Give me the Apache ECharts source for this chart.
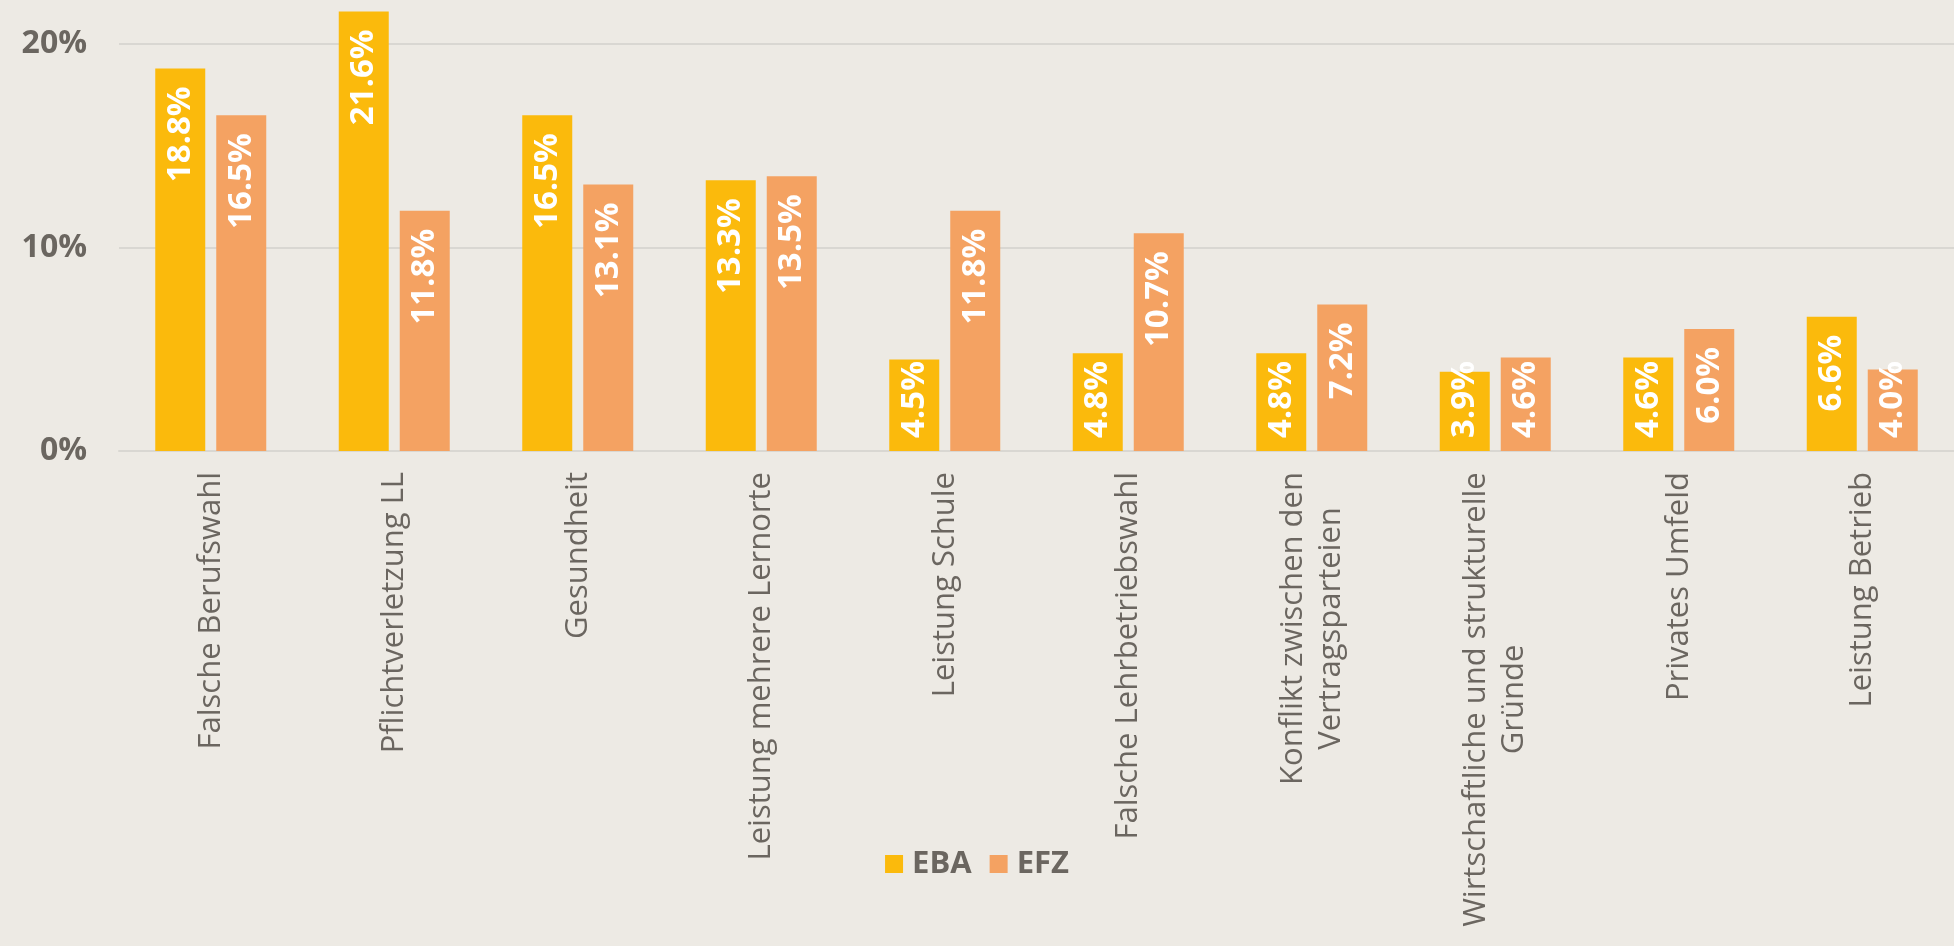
<!DOCTYPE html>
<html>
<head>
<meta charset="utf-8">
<script src="https://cdn.jsdelivr.net/npm/echarts@6/dist/echarts.min.js"></script>
<style>
  html, body { margin: 0; padding: 0; background: #edeae4; }
  #chart { width: 1954px; height: 946px; }
</style>
</head>
<body>
<div id="chart"></div>
<script>
// Kategorien (Lösungsgründe)
var categories = [
  'Falsche Berufswahl',
  'Pflichtverletzung LL',
  'Gesundheit',
  'Leistung mehrere Lernorte',
  'Leistung Schule',
  'Falsche Lehrbetriebswahl',
  'Konflikt zwischen den\nVertragsparteien',
  'Wirtschaftliche und strukturelle\nGründe',
  'Privates Umfeld',
  'Leistung Betrieb'
]
var seriesNames = ['EBA', 'EFZ']
var ebaValues = [18.8, 21.6, 16.5, 13.3, 4.5, 4.8, 4.8, 3.9, 4.6, 6.6]
var efzValues = [16.5, 11.8, 13.1, 13.5, 11.8, 10.7, 7.2, 4.6, 6.0, 4.0]
var yTicks = [0, 10, 20]

var colors = ['#fbba0c', '#f4a262']
var textGrey = '#6b6660'
var fontFam = '"Open Sans", "Noto Sans", sans-serif'

// mehrzeilige Achsenbeschriftungen: Zeilen zentriert, Block an der Achse
var ctx = document.createElement('canvas').getContext('2d')
ctx.font = '31px ' + fontFam
var richStyles = {}
var richKey = {}
categories.forEach(function(c, i) {
  var lines = c.split('\n')
  if (lines.length > 1) {
    var w = Math.max.apply(null, lines.map(function(l) { return ctx.measureText(l).width }))
    richKey[c] = 'c' + i
    richStyles['c' + i] = {
      width: Math.ceil(w),
      align: 'center',
      color: textGrey,
      fontSize: 31,
      fontFamily: fontFam,
      lineHeight: 38
    }
  }
})

// Datenbeschriftung: oben im Balken, bei kurzen Balken unten verankert
function labelData(values) {
  return values.map(function(v) {
    var short = v < 5.5
    return {
      value: v,
      label: short
        ? { position: 'insideBottom', align: 'left', distance: 13 }
        : { position: 'insideTop', align: 'right', distance: 18 }
    }
  })
}

function makeSeries(name, values, color) {
  return {
    name: name,
    type: 'bar',
    barWidth: 50,
    barGap: '22%',
    clip: false,
    itemStyle: { color: color },
    label: {
      show: true,
      rotate: 90,
      verticalAlign: 'middle',
      color: '#fff',
      fontSize: 33,
      fontWeight: 'bold',
      fontFamily: fontFam,
      formatter: function(p) { return p.value.toFixed(1) + '%' }
    },
    data: labelData(values)
  }
}

var chart = echarts.init(document.getElementById('chart'))
chart.setOption({
  backgroundColor: '#edeae4',
  animation: false,
  grid: { left: 119, right: -5, top: 44, bottom: 495, containLabel: false },
  legend: {
    data: seriesNames,
    top: 840,
    left: 'center',
    itemWidth: 18,
    itemHeight: 18,
    itemGap: 18,
    icon: 'rect',
    textStyle: {
      color: textGrey,
      fontSize: 31,
      fontWeight: 'bold',
      fontFamily: fontFam,
      lineHeight: 38,
      padding: [0, 0, 0, 4]
    }
  },
  xAxis: {
    type: 'category',
    data: categories,
    axisLine: { lineStyle: { color: '#d9d7d2', width: 2 } },
    axisTick: { show: false },
    axisLabel: {
      interval: 0,
      rotate: 90,
      margin: 21,
      color: textGrey,
      fontSize: 31,
      fontFamily: fontFam,
      lineHeight: 38,
      formatter: function(value) {
        var k = richKey[value]
        if (!k) return value
        return value.split('\n').map(function(l) { return '{' + k + '|' + l + '}' }).join('\n')
      },
      rich: richStyles
    }
  },
  yAxis: {
    type: 'value',
    min: yTicks[0],
    max: yTicks[yTicks.length - 1],
    interval: 10,
    axisLine: { show: false },
    axisTick: { show: false },
    splitLine: { lineStyle: { color: '#d9d7d2', width: 2 } },
    axisLabel: {
      margin: 32,
      color: textGrey,
      fontSize: 32,
      fontWeight: 'bold',
      fontFamily: fontFam,
      formatter: '{value}%'
    }
  },
  series: [
    makeSeries(seriesNames[0], ebaValues, colors[0]),
    makeSeries(seriesNames[1], efzValues, colors[1])
  ]
})
</script>
</body>
</html>
